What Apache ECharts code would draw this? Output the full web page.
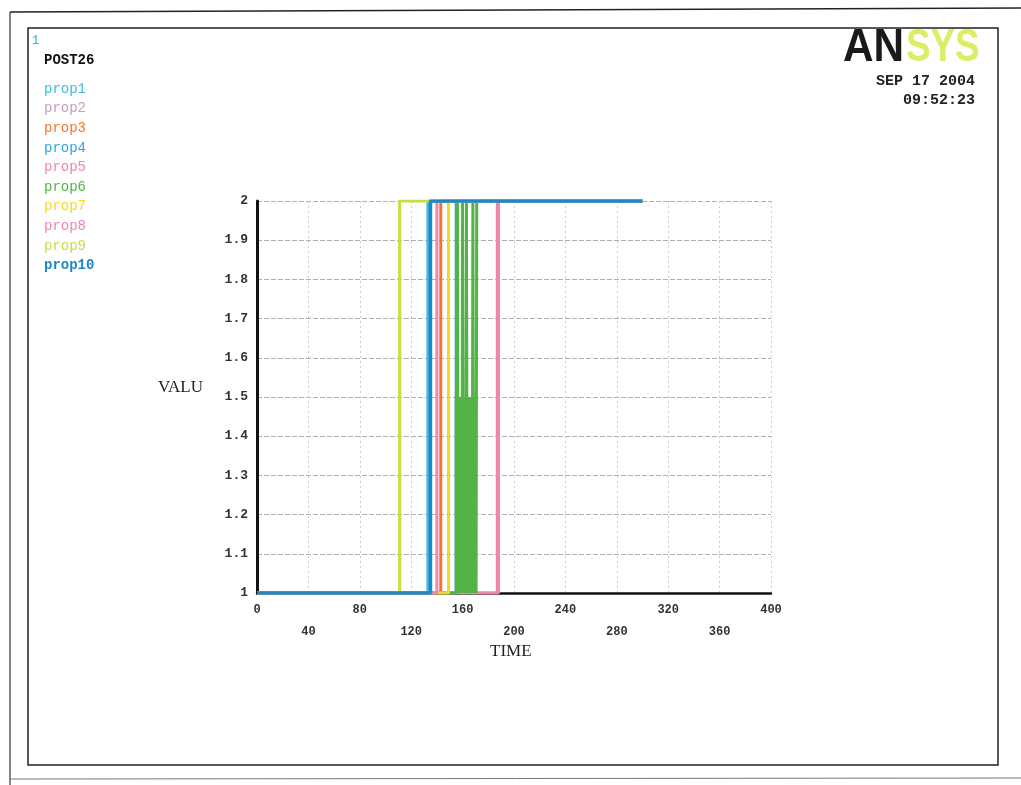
<!DOCTYPE html>
<html>
<head>
<meta charset="utf-8">
<script src="https://cdn.jsdelivr.net/npm/echarts@6/dist/echarts.min.js"></script>
<style>
  html, body { margin: 0; padding: 0; background: #fff; }
  #chart { width: 1021px; height: 785px; }
</style>
</head>
<body>
<div id="chart"></div>
<script>
// Series names and colours
const seriesNames = ['prop1', 'prop2', 'prop3', 'prop4', 'prop5', 'prop6', 'prop7', 'prop8', 'prop9', 'prop10'];
const seriesColors = ['#3cbcdc', '#c99cbc', '#f07828', '#2ea6dc', '#f284ac', '#52b444', '#f6d81e', '#ee86b4', '#c6de3e', '#1e86cc'];

// Each series: [time, value] points where the value changes (held until the next point)
const prop1 = [[0, 1], [133, 2], [300, 2]];
const prop2 = [[0, 1], [188, 2], [300, 2]];
const prop3 = [[0, 1], [143, 2], [300, 2]];
const prop4 = [[0, 1], [155, 2], [300, 2]];
const prop5 = [[0, 1], [187, 2], [300, 2]];
const prop6 = [[0, 1],
  [155, 1.5], [155.5, 1], [156, 2], [156.6, 1], [157, 1.5], [157.5, 1],
  [158, 1.5], [158.5, 1], [159, 1.5], [159.5, 1], [160, 2], [160.6, 1],
  [161, 1.5], [161.5, 1], [162, 1.5], [162.5, 1], [163, 2], [163.6, 1],
  [164, 1.5], [164.5, 1], [165, 1.5], [165.5, 1], [166, 1.5], [166.5, 1],
  [167, 1.5], [167.5, 1], [168, 2], [168.6, 1], [169, 1.5], [169.5, 1],
  [170, 1.5], [170.5, 1], [171, 2], [300, 2]];
const prop7 = [[0, 1], [149, 2], [300, 2]];
const prop8 = [[0, 1], [140, 2], [300, 2]];
const prop9 = [[0, 1], [111, 2], [300, 2]];
const prop10 = [[0, 1], [135, 2], [300, 2]];
const seriesData = [prop1, prop2, prop3, prop4, prop5, prop6, prop7, prop8, prop9, prop10];

// Axis ranges and header text
const timeMin = 0, timeMax = 400, timeStep = 40;
const valuMin = 1, valuMax = 2, valuStep = 0.1;
const headerLines = ['SEP 17 2004', '09:52:23'];

const mono = '"Liberation Mono", "DejaVu Sans Mono", monospace';
const serif = '"Liberation Serif", "DejaVu Serif", serif';

const chart = echarts.init(document.getElementById('chart'), null, { renderer: 'canvas' });

const option = {
  backgroundColor: '#ffffff',
  animation: false,
  grid: { left: 257, right: 250, top: 201, bottom: 192, containLabel: false },
  legend: {
    orient: 'vertical',
    left: 34,
    top: 82,
    padding: [0, 5, 0, 5],
    icon: 'none',
    itemWidth: 0,
    itemHeight: 14,
    itemGap: 5.6,
    selectedMode: false,
    textStyle: { fontFamily: mono, fontSize: 14, lineHeight: 14 },
    data: seriesNames.map((n, i) => ({
      name: n,
      textStyle: { color: seriesColors[i], fontWeight: i === 9 ? 'bold' : 'normal', fontFamily: mono, fontSize: 14, lineHeight: 14 }
    }))
  },
  xAxis: {
    type: 'value',
    min: timeMin,
    max: timeMax,
    interval: timeStep,
    axisLine: { show: true, onZero: false, lineStyle: { color: '#111', width: 2.5 } },
    axisTick: { show: false },
    axisLabel: {
      margin: 6,
      fontFamily: mono,
      fontSize: 12,
      fontWeight: 'bold',
      color: '#333',
      lineHeight: 22,
      verticalAlign: 'top',
      formatter: (v) => {
        const idx = Math.round((v - timeMin) / timeStep);
        return idx % 2 === 1 ? '\n' + v : String(v);
      }
    },
    splitLine: { show: true, lineStyle: { color: '#cccccc', type: [2, 3], width: 1 } }
  },
  yAxis: {
    type: 'value',
    min: valuMin,
    max: valuMax,
    interval: valuStep,
    axisLine: { show: true, onZero: false, lineStyle: { color: '#111', width: 3 } },
    axisTick: { show: false },
    axisLabel: {
      margin: 9,
      fontFamily: mono,
      fontSize: 13,
      fontWeight: 'bold',
      color: '#333',
      formatter: (v) => {
        const r = Math.round(v * 10) / 10;
        return Number.isInteger(r) ? String(r) : r.toFixed(1);
      }
    },
    splitLine: { show: true, lineStyle: { color: '#b0b0b0', type: [5, 2], width: 1 } }
  },
  series: seriesNames.map((n, i) => ({
    name: n,
    type: 'line',
    step: 'end',
    data: seriesData[i],
    symbol: 'none',
    color: seriesColors[i],
    lineStyle: { width: i === 9 ? 3.5 : 3, color: seriesColors[i] },
    z: 2 + i
  })),
  graphic: [
    // page edges
    { type: 'line', shape: { x1: 10, y1: 12, x2: 1021, y2: 8 }, style: { stroke: '#222', lineWidth: 1.5 }, silent: true },
    { type: 'line', shape: { x1: 10, y1: 12, x2: 10, y2: 785 }, style: { stroke: '#333', lineWidth: 1.2 }, silent: true },
    { type: 'line', shape: { x1: 10, y1: 779, x2: 1021, y2: 778 }, style: { stroke: '#777', lineWidth: 1 }, silent: true },
    // plot window frame
    { type: 'rect', shape: { x: 28, y: 28, width: 970, height: 737 }, style: { fill: 'none', stroke: '#222', lineWidth: 1.5 }, silent: true },
    // window number and title
    { type: 'text', left: 32, top: 35, style: { text: '1', fill: '#2ab8c8', font: '12px ' + mono }, silent: true },
    { type: 'text', left: 44, top: 53, style: { text: 'POST26', fill: '#111', font: 'bold 14px ' + mono }, silent: true },
    // logo
    { type: 'text', left: 843, top: 25, style: { text: 'AN', fill: '#1a1a1a', font: 'bold 46px "Liberation Sans", Arial, sans-serif' }, scaleX: 0.92, silent: true },
    { type: 'text', left: 906, top: 25, style: { text: 'SYS', fill: '#dcee66', font: 'bold 46px "Liberation Sans", sans-serif' }, scaleX: 0.8, silent: true },
    // date and time
    { type: 'text', right: 46, top: 74, style: { text: headerLines[0], fill: '#222', font: 'bold 15px ' + mono, align: 'right' }, silent: true },
    { type: 'text', right: 46, top: 93, style: { text: headerLines[1], fill: '#222', font: 'bold 15px ' + mono, align: 'right' }, silent: true },
    // axis titles
    { type: 'text', left: 158, top: 379, style: { text: 'VALU', fill: '#222', font: '17px ' + serif }, silent: true },
    { type: 'text', left: 490, top: 643, style: { text: 'TIME', fill: '#222', font: '17px ' + serif }, silent: true }
  ]
};

chart.setOption(option);
</script>
</body>
</html>
